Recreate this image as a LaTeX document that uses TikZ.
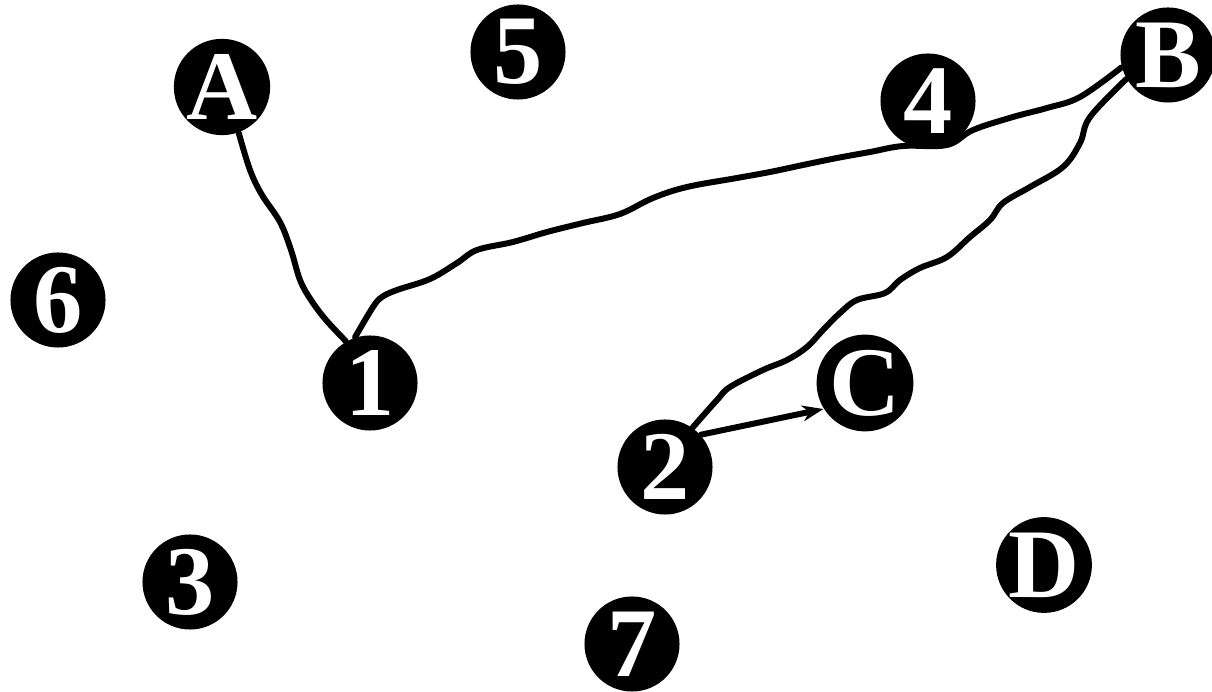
\documentclass[tikz,border=0pt]{standalone}
\usepackage{fontspec}
\setmainfont{Liberation Serif}
\usetikzlibrary{arrows.meta}
\tikzset{
  vtx/.style={circle, fill=black, text=white, inner sep=0pt, minimum size=0.95cm,
    font=\fontsize{28}{28}\selectfont\bfseries},
  wire/.style={line width=1.7pt, black, line join=round, line cap=round},
}
\begin{document}
\begin{tikzpicture}[x=0.01cm, y=-0.01cm]
\useasboundingbox (0,0) rectangle (1212,692);
% nodes
\node[vtx] (A) at (222,87) {A};
\node[vtx] (5) at (518,52) {5};
\node[vtx] (4) at (928,101) {4};
\node[vtx] (B) at (1168,55) {B};
\node[vtx] (6) at (58,300) {6};
\node[vtx] (1) at (370,383) {1};
\node[vtx] (C) at (865,383) {C};
\node[vtx] (2) at (665,467) {2};
\node[vtx] (3) at (190,582) {3};
\node[vtx] (D) at (1044,565) {D};
\node[vtx] (7) at (632,644) {7};
% connectors
\draw[wire] plot[smooth, tension=0.6] coordinates {(A.-70) (250,170) (262,195) (280,222) (291,250) (300,280) (311,300) (326,320) (1.120)};
\draw[wire] plot[smooth, tension=0.6] coordinates {(1.108) (373,307) (382,297) (397,290) (430,279) (457,263) (477,250) (513,242) (547,232) (583,223) (620,214) (653,198) (687,187) (737,178) (770,172) (803,165) (837,158) (870,152) (903,146) (947,145) (973,130) (1013,117) (1047,108) (1080,97) (B.-165)};
\draw[wire] plot[smooth, tension=0.6] coordinates {(B.-150) (1090,117) (1080,143) (1063,167) (1030,187) (1003,203) (990,220) (970,237) (947,257) (920,268) (900,280) (885,293) (857,300) (840,313) (823,330) (807,347) (787,360) (763,370) (730,387) (717,400) (2.55)};
\draw[wire, -{Stealth[length=6pt,width=4.5pt]}] (2.42) -- (C.-148);
\end{tikzpicture}
\end{document}
